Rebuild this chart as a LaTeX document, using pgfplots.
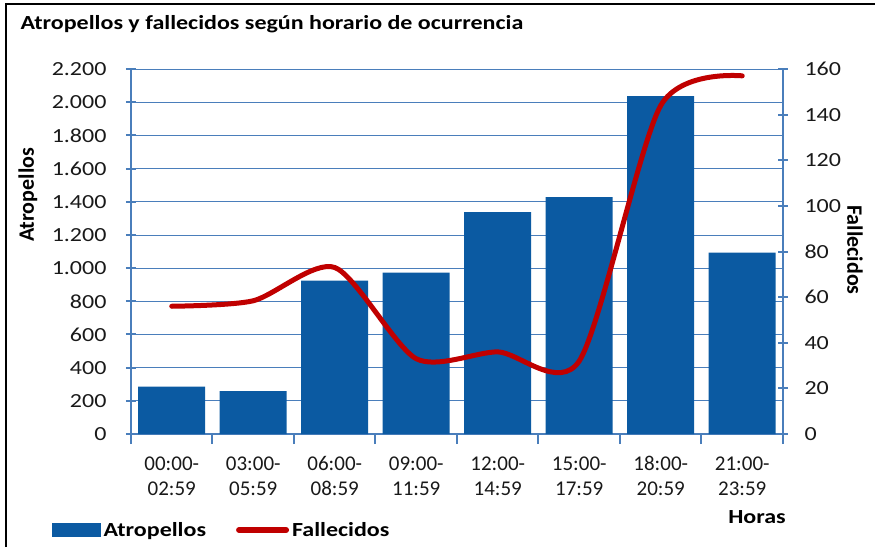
\documentclass[border=0pt]{standalone}
\usepackage{pgfplots}
\pgfplotsset{compat=1.18}
\usepackage{fontspec}
\setmainfont{Carlito}[FakeStretch=1.2]
\newfontfamily\plainfont{Carlito}
\definecolor{barblue}{HTML}{0B5AA2}
\definecolor{linered}{HTML}{C00000}
\definecolor{axblue}{HTML}{4A7EBB}
\begin{document}
\begin{tikzpicture}
\useasboundingbox (-131pt,-113pt) rectangle (744pt,434pt);
\pgfplotsset{
  common/.style={
    scale only axis, width=652pt, height=365pt,
    xmin=0.5, xmax=8.5,
    /pgf/number format/assume math mode=true,
    tick label style={font=\fontsize{20}{24}\selectfont, text=black!90},
    axis line style={axblue, line width=2pt},
    major tick length=10pt, tick align=center,
    tick style={axblue, line width=2pt},
  }
}
\begin{axis}[common,
  axis y line*=left, axis x line*=bottom,
  ymin=0, ymax=2200, ytick={0,200,...,2200},
  yticklabel style={/pgf/number format/1000 sep={.}, xshift=-16pt},
  ymajorgrids, major grid style={axblue, line width=0.8pt},
  xtick={0.5,1.5,...,8.5}, xticklabels={},
  ybar, bar width=67pt,
]
\addplot[fill=barblue, draw=none, bar shift=0pt] coordinates {
  (1,285) (2,259) (3,924) (4,972) (5,1338) (6,1427) (7,2037) (8,1093)
};
\end{axis}
\begin{axis}[common,
  axis y line*=right, axis x line*=bottom,
  x axis line style={draw=none},
  ymin=0, ymax=160, ytick={0,20,...,160},
  yticklabel style={xshift=13pt},
  xtick={1,...,8}, xtick style={draw=none},
  xticklabels={{00:00-\\02:59},{03:00-\\05:59},{06:00-\\08:59},{09:00-\\11:59},{12:00-\\14:59},{15:00-\\17:59},{18:00-\\20:59},{21:00-\\23:59}},
  xticklabel style={font=\plainfont\fontsize{21}{25}\selectfont, align=center, yshift=-14pt},
  legend style={at={(-0.1212,-0.263)}, anchor=west, draw=none, fill=none, inner sep=0pt,
    font=\bfseries\fontsize{20}{24}\selectfont, nodes={inner sep=0pt},
    /tikz/every even column/.append style={column sep=30pt},
    /tikz/every odd column/.append style={column sep=3pt}},
  legend columns=2, legend cell align=left,
]
\addlegendimage{legend image code/.code={\fill[barblue] (0pt,-6.5pt) rectangle (48pt,6.5pt);}}
\addlegendentry{Atropellos}
\addplot[linered, line width=5pt, smooth, tension=0.45, line cap=round,
  legend image code/.code={\draw[linered, line width=6pt, line cap=round] (3pt,0pt) -- (50pt,0pt);}]
  coordinates {(1,56) (2,58.4) (3,73) (4,33) (5,36) (6,32) (7,144) (8,157)};
\addlegendentry{Fallecidos}
\end{axis}
\draw[line width=2.5pt] (-125pt,-113pt) -- (-125pt,430pt) -- (744pt,430pt);
\node[anchor=base west, font=\bfseries\fontsize{20}{24}\selectfont] at (-114pt,404pt) {Atropellos y fallecidos según horario de ocurrencia};
\node[rotate=90, font=\plainfont\bfseries\fontsize{22}{26}\selectfont] at (-103pt,239pt) {Atropellos};
\node[rotate=-90, font=\plainfont\bfseries\fontsize{22}{26}\selectfont] at (724pt,184pt) {Fallecidos};
\node[font=\bfseries\fontsize{20}{24}\selectfont] at (626pt,-83pt) {Horas};
\end{tikzpicture}
\end{document}
